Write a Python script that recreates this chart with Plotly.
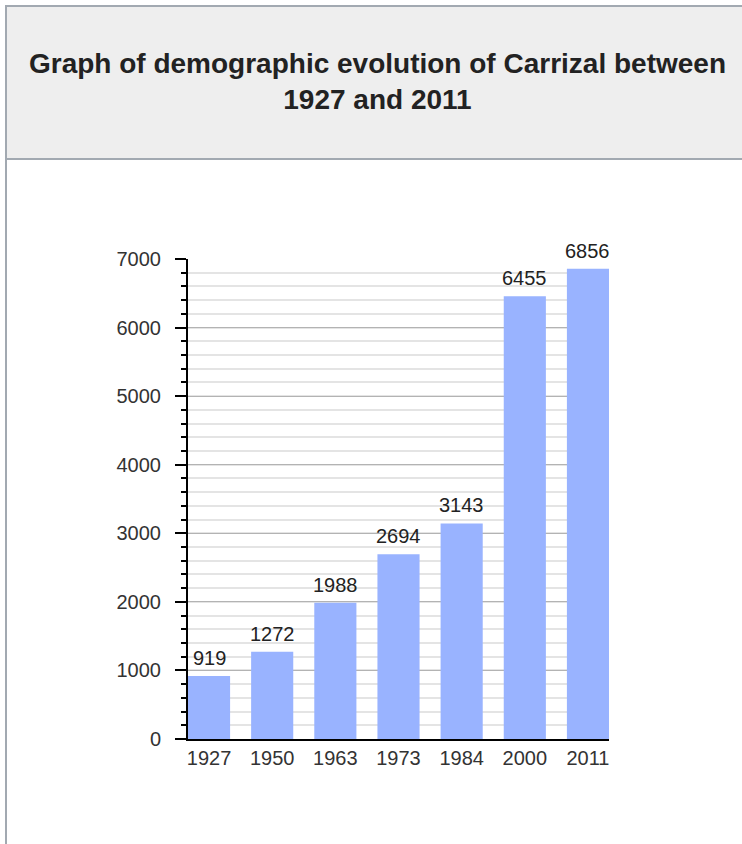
import plotly.graph_objects as go

years = ["1927", "1950", "1963", "1973", "1984", "2000", "2011"]
population = [919, 1272, 1988, 2694, 3143, 6455, 6856]
y_ticks = [0, 1000, 2000, 3000, 4000, 5000, 6000, 7000]
title_text = "Graph of demographic evolution of Carrizal between<br>1927 and 2011"

W, H = 742, 844
L, R, T, B = 188, 609, 259, 739  # plot area in pixels
FONT = "Liberation Sans, Arial, sans-serif"


def px(x):
    return (x - L) / (R - L)


def py(y):
    return (B - y) / (B - T)


fig = go.Figure()
fig.add_trace(go.Bar(
    x=years, y=population,
    marker=dict(color="#99b3ff", line=dict(width=0)),
    hoverinfo="x+y",
))

for i, v in enumerate(population):
    fig.add_annotation(
        x=i, y=v, xref="x", yref="y", text=str(v), showarrow=False,
        yanchor="bottom", yshift=5,
        font=dict(family=FONT, size=20, color="#222222"),
    )

border = "#a2a9b1"
fig.add_shape(type="rect", xref="paper", yref="paper",
              x0=px(6), x1=px(760), y0=py(159), y1=py(6),
              fillcolor="#eeeeee", line=dict(color=border, width=2), layer="below")
fig.add_shape(type="line", xref="paper", yref="paper",
              x0=px(6), x1=px(6), y0=py(159), y1=py(860),
              line=dict(color=border, width=2))

fig.add_annotation(
    xref="paper", yref="paper", x=px(377), y=py(81),
    xanchor="center", yanchor="middle", showarrow=False,
    text="<b>" + title_text + "</b>",
    font=dict(family=FONT, size=28, color="#222222"),
)

fig.update_layout(
    width=W, height=H,
    margin=dict(l=L, r=W - R, t=T, b=H - B, pad=0),
    paper_bgcolor="white", plot_bgcolor="white",
    showlegend=False, bargap=0.333,
    font=dict(family=FONT, size=20, color="#333333"),
)
fig.update_xaxes(
    type="category", range=[-0.333, 6.333],
    showline=True, linecolor="black", linewidth=2,
    ticks="", showgrid=False, zeroline=False,
    tickfont=dict(family=FONT, size=20, color="#333333"),
    ticklabelstandoff=0,
)
fig.update_yaxes(
    range=[0, 7000], tickvals=y_ticks, ticktext=[str(t) for t in y_ticks],
    showline=True, linecolor="black", linewidth=2,
    ticks="outside", ticklen=11, tickwidth=2, tickcolor="black",
    showgrid=True, gridcolor="#b3b3b3", gridwidth=1, zeroline=False,
    minor=dict(dtick=200, tick0=0, ticks="outside", ticklen=5, tickwidth=2,
               tickcolor="black", showgrid=True, gridcolor="#e4e4e4", gridwidth=1.5),
    tickfont=dict(family=FONT, size=20, color="#333333"),
    ticklabelstandoff=10,
)

fig.write_html("out.html")
